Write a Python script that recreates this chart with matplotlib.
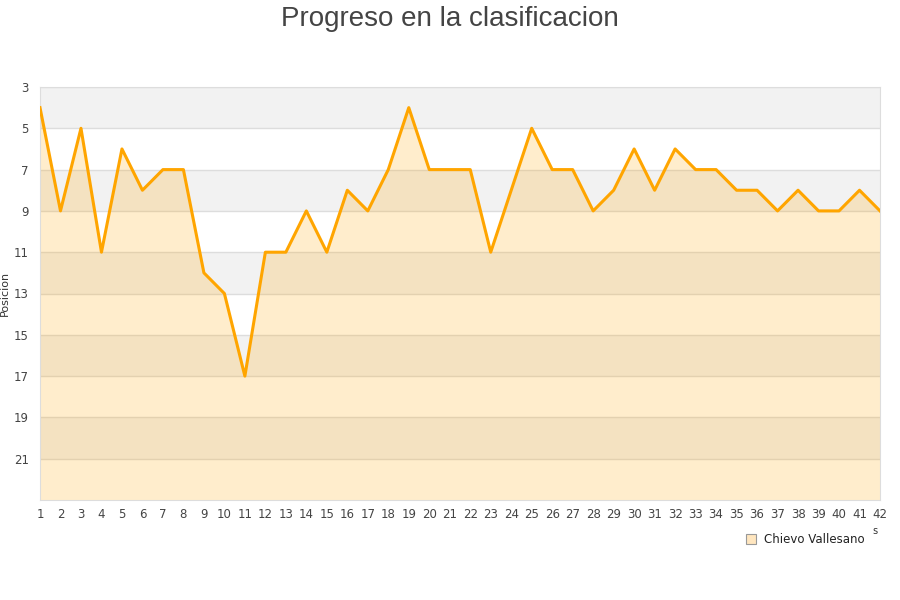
import matplotlib
matplotlib.use("Agg")
import matplotlib.pyplot as plt

jornadas = list(range(1, 43))
posicion = [4, 9, 5, 11, 6, 8, 7, 7, 12, 13, 17, 11, 11, 9, 11, 8, 9, 7, 4, 7,
            7, 7, 11, 8, 5, 7, 7, 9, 8, 6, 8, 6, 7, 7, 8, 8, 9, 8, 9, 9,
            8, 9]
equipo = "Chievo Vallesano"
y_ticks = list(range(3, 22, 2))

fig = plt.figure(figsize=(9, 6), dpi=100)
ax = fig.add_axes([40 / 900, 100 / 600, 840 / 900, 413 / 600])

# bandas alternas de fondo
for i, y0 in enumerate(range(3, 23, 2)):
    ax.axhspan(y0, y0 + 2, color="#f2f2f2" if i % 2 == 0 else "white", zorder=0, lw=0)
for y in y_ticks:
    ax.axhline(y, color="#dddddd", lw=1, zorder=1)

ax.fill_between(jornadas, posicion, 23, color="#ffa500", alpha=0.2, lw=0, zorder=2)
ax.plot(jornadas, posicion, color="#ffa500", lw=2.2, zorder=3)

ax.set_xlim(1, 42)
ax.set_ylim(23, 3)
ax.set_xticks(jornadas)
ax.set_yticks(y_ticks)
ax.tick_params(length=0, labelsize=8.5, colors="#444444", pad=6)
ax.tick_params(axis="y", pad=8)
for s in ax.spines.values():
    s.set_color("#dddddd")
ax.set_ylabel("Posicion", fontsize=8, color="#333333")
ax.yaxis.set_label_coords(-0.036, 0.5)

fig.text(0.5, 0.99, "Progreso en la clasificacion", ha="center", va="top",
         fontsize=20, color="#444444", family="Liberation Sans")

ax.plot([], [], ls="none", marker="s", markersize=7, markerfacecolor="#ffe6bf",
        markeredgecolor="#999999", markeredgewidth=0.8, label=equipo)
leg = ax.legend(loc="upper right", bbox_to_anchor=(0.994, -0.055), frameon=False,
                fontsize=8.5, handletextpad=0.6, handlelength=1.0)
for t in leg.get_texts():
    t.set_color("#222222")
fig.text(875 / 900, 1 - 531 / 600, "s", fontsize=7, color="#333333", ha="center", va="center")

fig.savefig("out.png", dpi=100)
